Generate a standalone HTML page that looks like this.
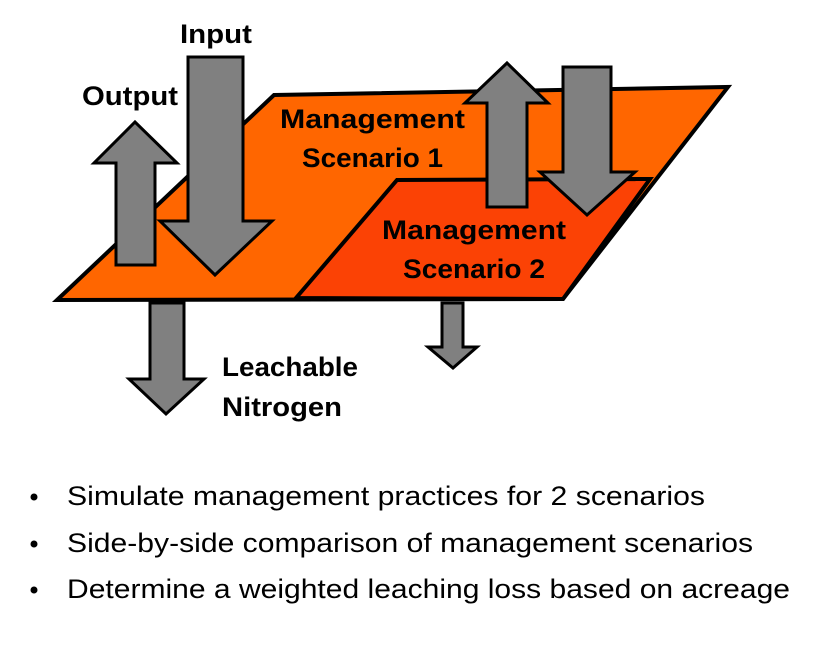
<!DOCTYPE html>
<html><head><meta charset="utf-8"><style>
html,body{margin:0;padding:0;background:#fff;}
svg{display:block;}
text{font-family:"Liberation Sans",sans-serif;}
.b{font-weight:bold;font-size:27px;fill:#000;}
.r{font-size:27px;fill:#000;}
</style></head><body>
<svg width="839" height="649" viewBox="0 0 839 649" xmlns="http://www.w3.org/2000/svg">
<g stroke="#000" stroke-width="4" stroke-linejoin="miter">
<polygon points="274,95 728,87 563,299 57,300" fill="#FF6600"/>
<polygon points="397,180 650,179 563,299 296,298" fill="#FB4205"/>
</g>
<g stroke="#000" stroke-width="3" fill="#808080" stroke-linejoin="miter">
<polygon points="116,265 116,163 94,163 135,122 177,163 155,163 155,265"/>
<polygon points="188,57 243,57 243,221 272,221 215,275 160,221 188,221"/>
<polygon points="150,303 184,303 184,379 204,379 166,414 129,379 150,379"/>
<polygon points="487,207 487,103 465,103 507,63 548,103 527,103 527,207"/>
<polygon points="563,67 611,67 611,172 635,172 587,215 540,172 563,172"/>
<polygon points="442,303 463,303 463,347 477,347 453,368 428,347 442,347"/>
</g>
<text class="b" x="180" y="43" textLength="72" lengthAdjust="spacingAndGlyphs">Input</text>
<text class="b" x="82" y="105" textLength="96" lengthAdjust="spacingAndGlyphs">Output</text>
<text class="b" x="280" y="128" textLength="185" lengthAdjust="spacingAndGlyphs">Management</text>
<text class="b" x="302" y="167" textLength="141" lengthAdjust="spacingAndGlyphs">Scenario 1</text>
<text class="b" x="382" y="239" textLength="184" lengthAdjust="spacingAndGlyphs">Management</text>
<text class="b" x="403" y="278" textLength="142" lengthAdjust="spacingAndGlyphs">Scenario 2</text>
<text class="b" x="222" y="376" textLength="136" lengthAdjust="spacingAndGlyphs">Leachable</text>
<text class="b" x="222" y="416" textLength="120" lengthAdjust="spacingAndGlyphs">Nitrogen</text>
<circle cx="34" cy="497" r="3.5" fill="#000"/>
<circle cx="34" cy="544" r="3.5" fill="#000"/>
<circle cx="34" cy="590" r="3.5" fill="#000"/>
<text class="r" x="67" y="505" textLength="638" lengthAdjust="spacingAndGlyphs">Simulate management practices for 2 scenarios</text>
<text class="r" x="67" y="552" textLength="686" lengthAdjust="spacingAndGlyphs">Side-by-side comparison of management scenarios</text>
<text class="r" x="67" y="598" textLength="723" lengthAdjust="spacingAndGlyphs">Determine a weighted leaching loss based on acreage</text>
</svg>
</body></html>
